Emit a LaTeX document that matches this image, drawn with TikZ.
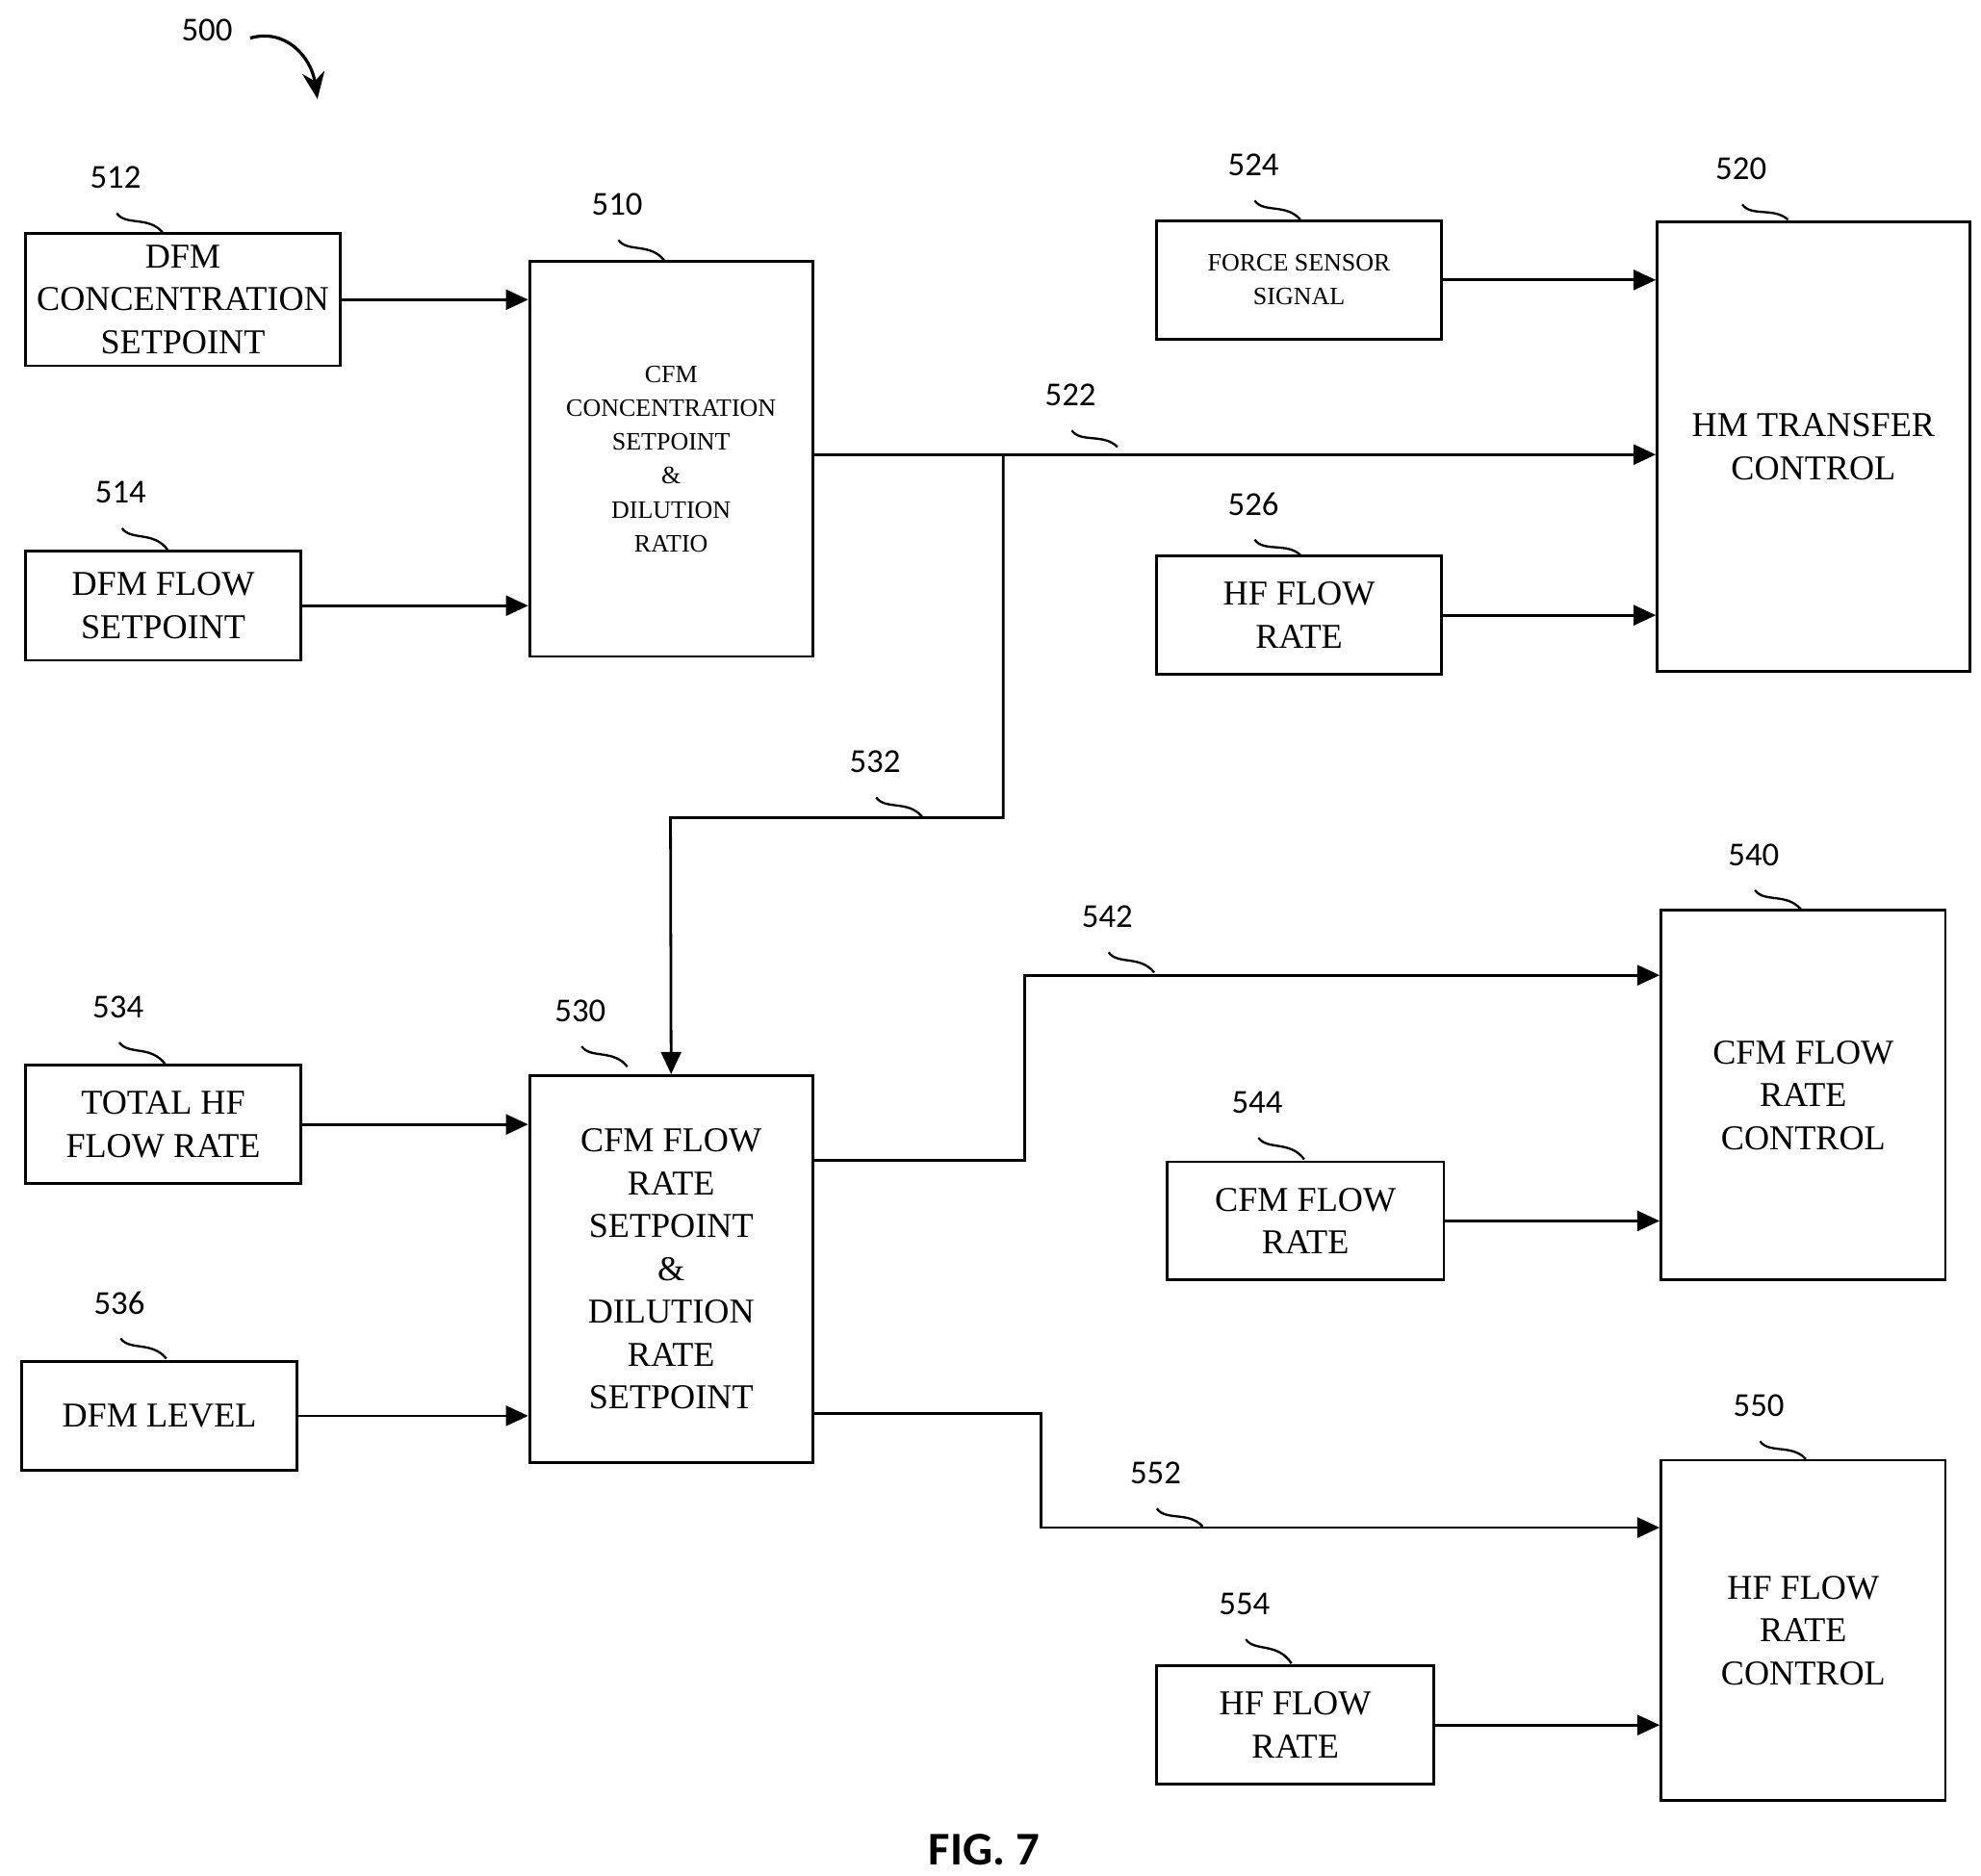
\documentclass[tikz,border=0pt]{standalone}
\usepackage{fontspec}
\setmainfont{Liberation Serif}
\newfontfamily\numf{Carlito}
\usetikzlibrary{arrows.meta}
\begin{document}
\begin{tikzpicture}[x=0.01cm,y=-0.01cm,line width=0.6pt,
  box/.style={draw,rectangle,inner sep=0pt,align=center,font=\fontsize{7.8}{9.6}\selectfont},
  sbox/.style={box,font=\fontsize{5.6}{7.6}\selectfont},
  arr/.style={-{Triangle[length=5pt,width=4.5pt]}},
  num/.style={font=\numf\fontsize{7.5}{9}\selectfont}]
\useasboundingbox (0,0) rectangle (1560,1477);
\newcommand{\mybox}[7][box]{\node[#1,minimum width=#4*0.01cm,minimum height=#5*0.01cm] (#2) at (#3) {#6};}
\newcommand{\lbl}[4]{\node[num] (l#1) at (#2,#3) {#1};\draw[line width=0.5pt] (#2+1,#3+28) .. controls (#2+8,#3+38) and (#2+26,#3+30) .. (#2+37,#3+#4);}
\mybox{n512}{144,236}{248}{104}{DFM\\CONCENTRATION\\SETPOINT}{}
\mybox{n514}{128.5,477}{217}{86}{DFM FLOW\\SETPOINT}{}
\mybox[sbox]{n510}{528.5,361.5}{223}{311}{CFM\\CONCENTRATION\\SETPOINT\\\&\\DILUTION\\RATIO}{}
\mybox[sbox]{n524}{1023,220.5}{224}{93}{FORCE SENSOR\\SIGNAL}{}
\mybox{n520}{1428,352}{246}{354}{HM TRANSFER\\CONTROL}{}
\mybox{n526}{1023,484.5}{224}{93}{HF FLOW\\RATE}{}
\mybox{n534}{128.5,885.5}{217}{93}{TOTAL HF\\FLOW RATE}{}
\mybox{n536}{125.5,1115}{217}{86}{DFM LEVEL}{}
\mybox{n530}{528.5,999.5}{223}{305}{CFM FLOW\\RATE\\SETPOINT\\\&\\DILUTION\\RATE\\SETPOINT}{}
\mybox{n540}{1420,862.5}{224}{291}{CFM FLOW\\RATE\\CONTROL}{}
\mybox{n544}{1028,961.5}{218}{93}{CFM FLOW\\RATE}{}
\mybox{n550}{1420,1284}{224}{268}{HF FLOW\\RATE\\CONTROL}{}
\mybox{n554}{1020,1358.5}{218}{93}{HF FLOW\\RATE}{}
% connectors
\draw[arr] (n512.east) -- (n512.east -| n510.west);
\draw[arr] (n514.east) -- (n514.east -| n510.west);
\draw[arr] (n524.east) -- (n524.east -| n520.west);
\coordinate (br) at (790,358);
\draw[arr] (n510.east |- br) -- (n520.west |- br);
\draw[arr] (br) -- (790,644) -- (528,644) -- (n530.north);
\draw[arr] (n526.east) -- (n526.east -| n520.west);
\draw[arr] (n534.east) -- (n534.east -| n530.west);
\draw[arr] (n536.east) -- (n536.east -| n530.west);
\coordinate (a1) at (807,914); \coordinate (a2) at (807,768);
\draw[arr] (n530.east |- a1) -- (a1) -- (a2) -- (n540.west |- a2);
\draw[arr] (n544.east) -- (n544.east -| n540.west);
\coordinate (b1) at (820,1113); \coordinate (b2) at (820,1203);
\draw[arr] (n530.east |- b1) -- (b1) -- (b2) -- (n550.west |- b2);
\draw[arr] (n554.east) -- (n554.east -| n550.west);
% labels
\node[num] (l500) at (163,24) {500};
\draw[-{Stealth[length=6pt,width=5pt]},line width=0.7pt] (197,30) .. controls (225,22) and (245,45) .. (250,78);
\lbl{512}{91}{140}{43}
\lbl{510}{486}{161}{44}
\lbl{524}{987}{130}{43}
\lbl{520}{1371}{133}{40}
\lbl{522}{843}{311}{41}
\lbl{526}{987}{397}{40}
\lbl{514}{95}{388}{45}
\lbl{532}{689}{600}{43}
\lbl{540}{1381}{673}{43}
\lbl{542}{872}{722}{44}
\lbl{534}{93}{793}{45}
\lbl{530}{457}{796}{44}
\lbl{544}{990}{868}{45}
\lbl{536}{94}{1026}{44}
\lbl{550}{1385}{1107}{42}
\lbl{552}{910}{1160}{42}
\lbl{554}{980}{1263}{47}
\node[font=\numf\bfseries\fontsize{10.5}{12}\selectfont] (fig) at (775,1457) {FIG. 7};
\end{tikzpicture}
\end{document}
